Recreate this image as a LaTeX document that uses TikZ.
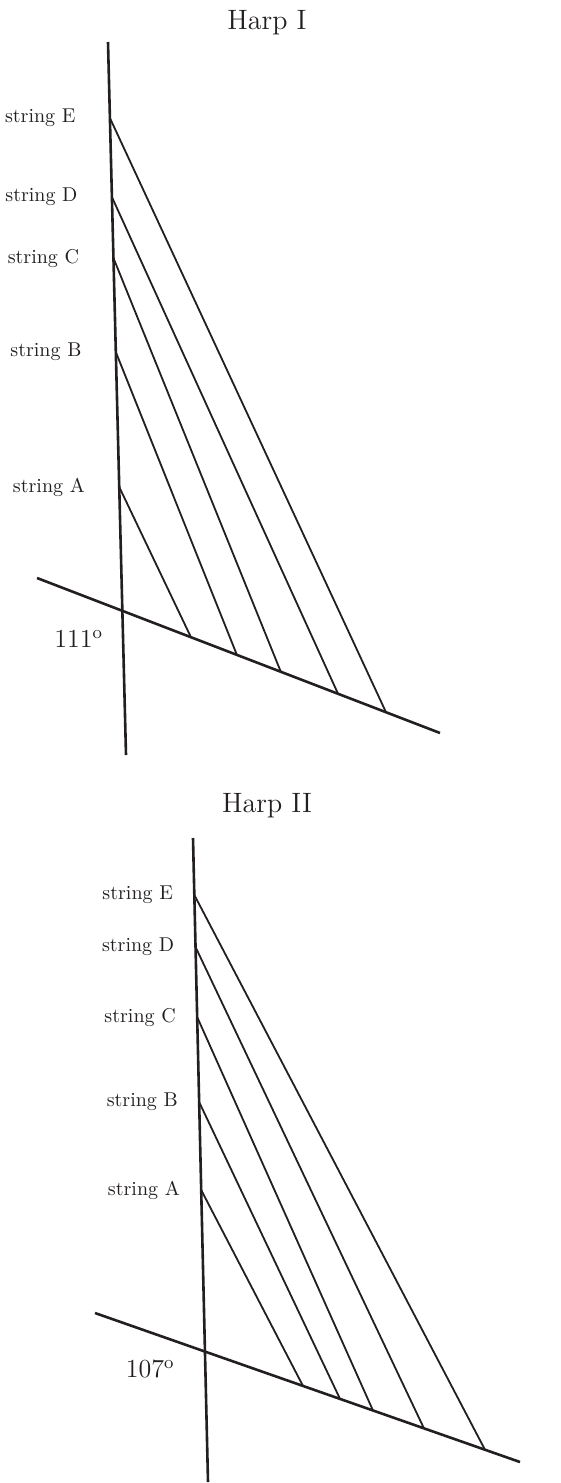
\documentclass[tikz,border=0pt]{standalone}
\usepackage{tikz}
\usetikzlibrary{positioning, calc}
\definecolor{HarpInk}{HTML}{231F20}

\begin{document}
\begin{tikzpicture}[x=0.5pt, y=-0.5pt,
  every node/.style={text=HarpInk},
  frame/.style={line width=1.3pt, HarpInk},
  strng/.style={line width=0.9pt, HarpInk},
  lbl/.style={font=\fontsize{10}{12}\selectfont, inner sep=0pt},
  ttl/.style={font=\fontsize{14}{16}\selectfont},
  deg/.style={font=\fontsize{13}{15}\selectfont, inner sep=0pt, anchor=east}
]
  \useasboundingbox (0,0) rectangle (561,1483);

  % Harp I
  \node[ttl] (titleI) at (267,23) {Harp I};
  \coordinate (topI) at (108,42);
  \coordinate (footI) at (126,755);
  \coordinate (leftI) at (37,578);
  \coordinate (rightI) at (440,733);
  \coordinate (crossI) at ($(leftI)!0.212!(rightI)$);
  \draw[frame] (topI) -- (footI);
  \draw[frame] (leftI) -- (rightI);
  \foreach \s/\a/\b in {A/0.6241/0.382, B/0.4348/0.496, C/0.303/0.605,
                        D/0.2174/0.747, E/0.1066/0.866} {
    \coordinate (str\s-1) at ($(topI)!\a!(footI)$);
    \coordinate (end\s-1) at ($(leftI)!\b!(rightI)$);
    \draw[strng] (str\s-1) -- (end\s-1);
    \node[lbl, left=17pt of str\s-1] (lbl\s-1) {string \s};
  }
  \node[deg] (angI) at ($(crossI)+(-19,28)$) {111\textsuperscript{o}};

  % Harp II
  \node[ttl] (titleII) at (267,806) {Harp II};
  \coordinate (topII) at (193,838);
  \coordinate (footII) at (208,1482);
  \coordinate (leftII) at (95,1313);
  \coordinate (rightII) at (520,1462);
  \coordinate (crossII) at ($(leftII)!0.2586!(rightII)$);
  \draw[frame] (topII) -- (footII);
  \draw[frame] (leftII) -- (rightII);
  \foreach \s/\a/\b in {A/0.5466/0.4894, B/0.41/0.5765, C/0.278/0.654,
                        D/0.1693/0.774, E/0.0885/0.9176} {
    \coordinate (str\s-2) at ($(topII)!\a!(footII)$);
    \coordinate (end\s-2) at ($(leftII)!\b!(rightII)$);
    \draw[strng] (str\s-2) -- (end\s-2);
    \node[lbl, left=10.5pt of str\s-2] (lbl\s-2) {string \s};
  }
  \node[deg] (angII) at ($(crossII)+(-30,17)$) {107\textsuperscript{o}};
\end{tikzpicture}
\end{document}
